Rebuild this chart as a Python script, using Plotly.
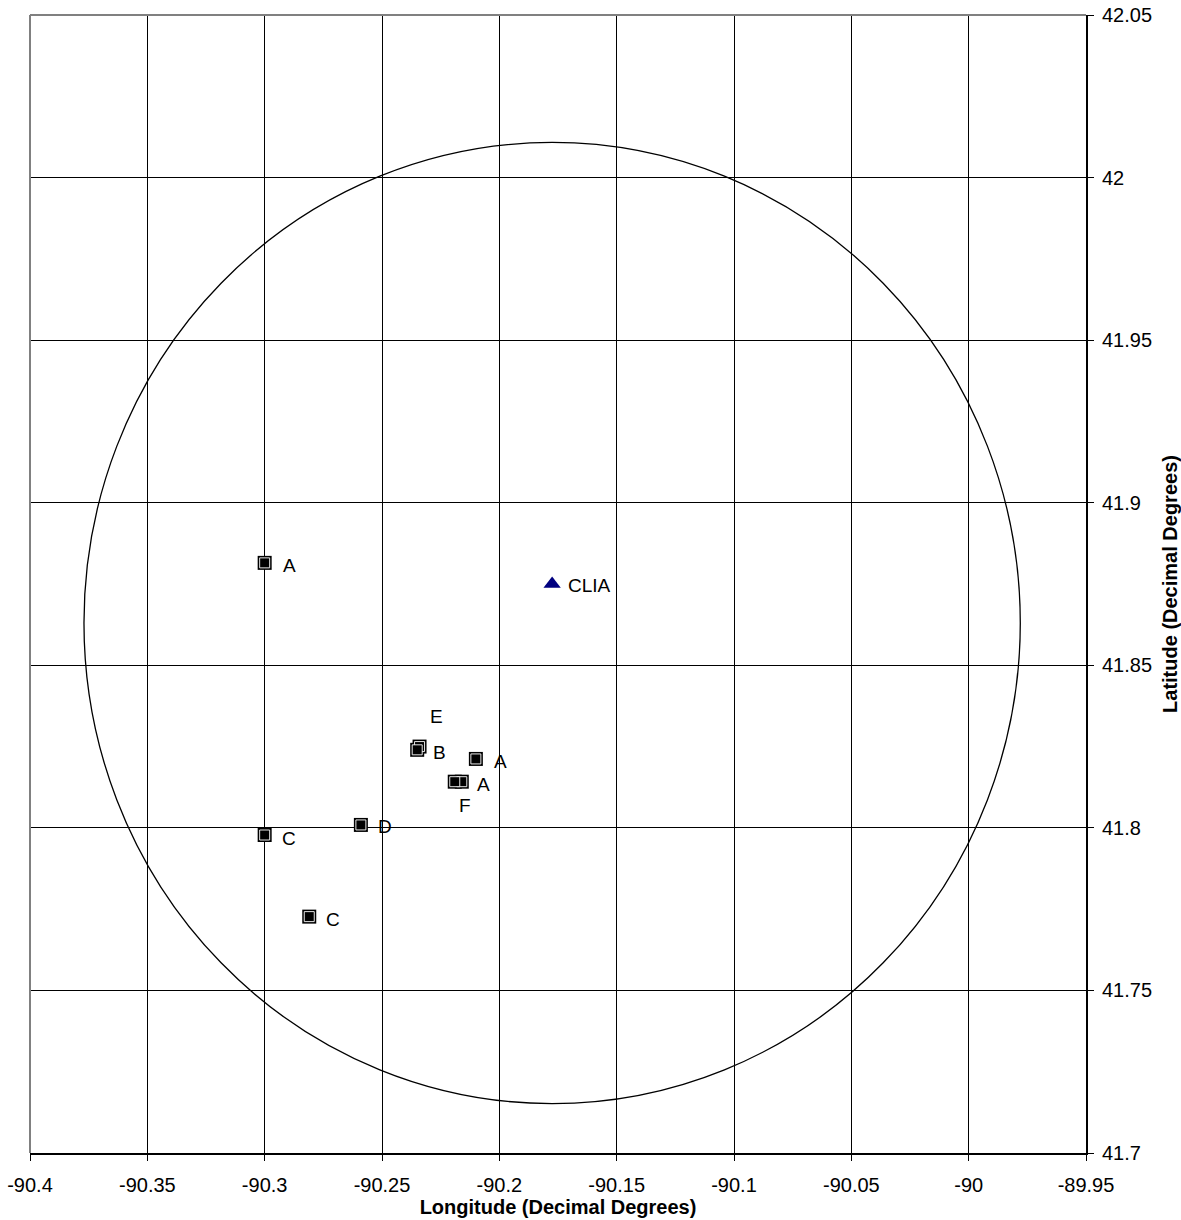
import plotly.graph_objects as go

# ---- data ----
site_names = ["A", "E", "B", "A", "A", "F", "D", "C", "C"]
site_lon = [-90.300, -90.234, -90.235, -90.210, -90.216, -90.219, -90.259, -90.300, -90.281]
site_lat = [41.8815, 41.825, 41.824, 41.8212, 41.8142, 41.8142, 41.8009, 41.7978, 41.7727]

station_name = ["CLIA"]
station_lon = [-90.1775]
station_lat = [41.875]

circle_center_lon = -90.1775
circle_center_lat = 41.863
circle_radius_lon = 0.1995
circle_radius_lat = 0.1478

x_range = [-90.4, -89.95]
y_range = [41.7, 42.05]
x_tick_vals = [-90.4, -90.35, -90.3, -90.25, -90.2, -90.15, -90.1, -90.05, -90.0, -89.95]
x_tick_text = ["-90.4", "-90.35", "-90.3", "-90.25", "-90.2", "-90.15", "-90.1", "-90.05", "-90", "-89.95"]
y_tick_vals = [41.7, 41.75, 41.8, 41.85, 41.9, 41.95, 42.0, 42.05]
y_tick_text = ["41.7", "41.75", "41.8", "41.85", "41.9", "41.95", "42", "42.05"]

# label placement (pixel offsets, style only)
label_offsets = [(25, 3), (17, -30), (22, 3), (25, 3), (22, 3), (10, 24), (24, 2), (24, 3), (24, 3)]

FONT = "Liberation Sans, Arial, sans-serif"

fig = go.Figure()

# range circle
fig.add_shape(type="circle", xref="x", yref="y",
              x0=circle_center_lon - circle_radius_lon, x1=circle_center_lon + circle_radius_lon,
              y0=circle_center_lat - circle_radius_lat, y1=circle_center_lat + circle_radius_lat,
              line=dict(color="black", width=1.3), layer="above")

# site markers (Excel-like black square with white inner edge)
fig.add_trace(go.Scatter(x=site_lon, y=site_lat, mode="markers",
                         marker=dict(symbol="square", size=14, color="black",
                                     line=dict(color="black", width=0)),
                         hoverinfo="skip", showlegend=False))
fig.add_trace(go.Scatter(x=site_lon, y=site_lat, mode="markers",
                         marker=dict(symbol="square", size=10, color="black",
                                     line=dict(color="white", width=0.9)),
                         hoverinfo="skip", showlegend=False))

fig.add_trace(go.Scatter(x=station_lon, y=station_lat, mode="markers",
                         marker=dict(symbol="triangle-up", size=15, color="#000080"),
                         hoverinfo="skip", showlegend=False))

for name, lon, lat, (dx, dy) in zip(site_names, site_lon, site_lat, label_offsets):
    fig.add_annotation(x=lon, y=lat, text=name, showarrow=False,
                       xanchor="center", yanchor="middle", xshift=dx, yshift=-dy,
                       font=dict(family=FONT, size=19, color="black"))
for name, lon, lat in zip(station_name, station_lon, station_lat):
    fig.add_annotation(x=lon, y=lat, text=name, showarrow=False,
                       xanchor="left", yanchor="middle", xshift=14, yshift=-1,
                       font=dict(family=FONT, size=19, color="black"))

# gray top/left border
fig.add_shape(type="line", xref="paper", yref="paper", x0=0, x1=0, y0=0, y1=1,
              line=dict(color="#808080", width=2), layer="above")
fig.add_shape(type="line", xref="paper", yref="paper", x0=0, x1=1, y0=1, y1=1,
              line=dict(color="#808080", width=2), layer="above")

fig.update_xaxes(range=x_range, tickmode="array", tickvals=x_tick_vals, ticktext=x_tick_text,
                 automargin=False,
                 showgrid=True, gridcolor="black", gridwidth=1,
                 showline=True, linecolor="black", linewidth=2,
                 ticks="outside", ticklen=6, tickcolor="black", tickwidth=1,
                 ticklabelstandoff=7,
                 zeroline=False,
                 tickfont=dict(family=FONT, size=20, color="black"),
                 title=dict(text="<b>Longitude (Decimal Degrees)</b>", standoff=0,
                            font=dict(family=FONT, size=20, color="black")))
fig.update_yaxes(range=y_range, tickmode="array", tickvals=y_tick_vals, ticktext=y_tick_text,
                 side="right", automargin=False,
                 showgrid=True, gridcolor="black", gridwidth=1,
                 showline=True, linecolor="black", linewidth=2,
                 ticks="outside", ticklen=6, tickcolor="black", tickwidth=1,
                 ticklabelstandoff=4,
                 zeroline=False,
                 tickfont=dict(family=FONT, size=20, color="black"),
                 title=dict(text="<b>Latitude (Decimal Degrees)</b>", standoff=14,
                            font=dict(family=FONT, size=20, color="black")))

fig.update_layout(width=1181, height=1220,
                  margin=dict(l=30, r=95, t=15, b=67),
                  plot_bgcolor="white", paper_bgcolor="white",
                  showlegend=False)

fig.write_html("out.html")
